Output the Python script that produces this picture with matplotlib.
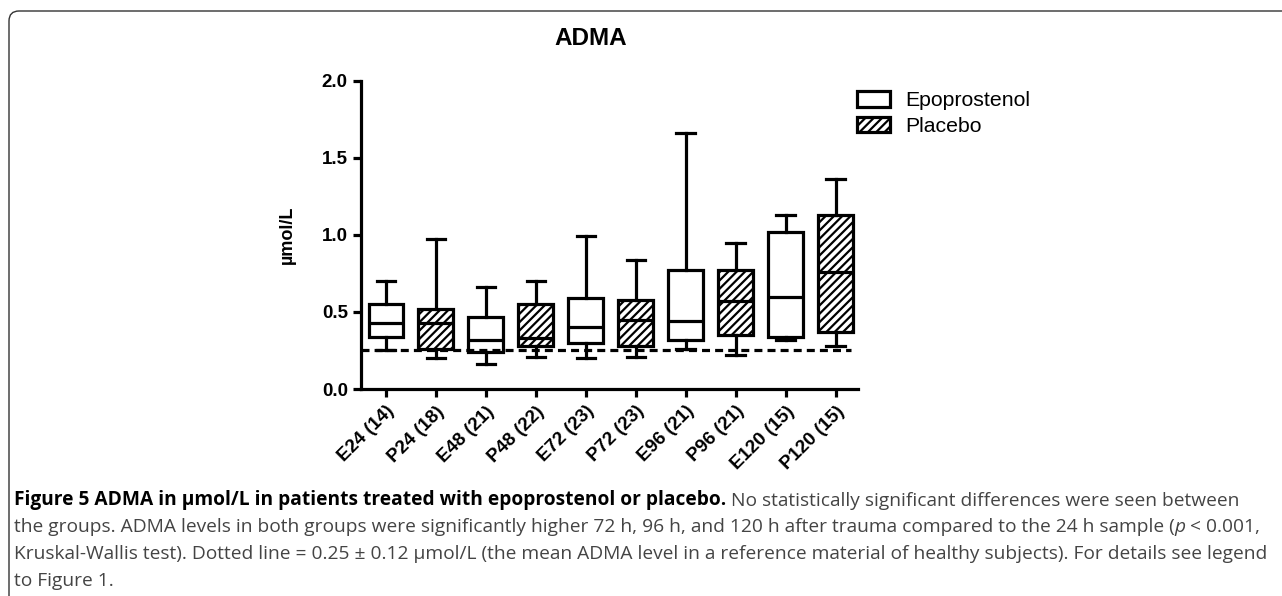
import matplotlib
matplotlib.use("Agg")
import matplotlib.pyplot as plt
from matplotlib.patches import Patch, FancyBboxPatch
from matplotlib.transforms import ScaledTranslation

# ADMA levels (umol/L) per sample group
groups = ['E24 (14)', 'P24 (18)', 'E48 (21)', 'P48 (22)', 'E72 (23)',
          'P72 (23)', 'E96 (21)', 'P96 (21)', 'E120 (15)', 'P120 (15)']
whisker_low = [0.25, 0.20, 0.16, 0.21, 0.20, 0.21, 0.26, 0.22, 0.32, 0.28]
q1 = [0.34, 0.26, 0.24, 0.28, 0.30, 0.28, 0.32, 0.35, 0.34, 0.37]
median = [0.43, 0.43, 0.32, 0.33, 0.40, 0.45, 0.44, 0.57, 0.60, 0.76]
q3 = [0.55, 0.52, 0.47, 0.55, 0.59, 0.58, 0.77, 0.77, 1.02, 1.13]
whisker_high = [0.70, 0.97, 0.66, 0.70, 0.99, 0.84, 1.66, 0.95, 1.13, 1.36]
placebo = [False, True, False, True, False, True, False, True, False, True]
ref_level = 0.25  # healthy reference mean
yticks = [0.0, 0.5, 1.0, 1.5, 2.0]

plt.rcParams['font.family'] = ['Liberation Sans', 'DejaVu Sans']
plt.rcParams['hatch.linewidth'] = 1.6

fig = plt.figure(figsize=(12.82, 5.96), dpi=100)
ax = fig.add_axes([0.2816, 0.3473, 0.3877, 0.5173])

lw = 2.3
stats = []
for i in range(len(groups)):
    stats.append(dict(label=groups[i], whislo=whisker_low[i], q1=q1[i],
                      med=median[i], q3=q3[i], whishi=whisker_high[i]))

bp = ax.bxp(stats, positions=list(range(len(groups))), widths=0.7,
            capwidths=0.37, showfliers=False, patch_artist=True,
            boxprops=dict(facecolor='white', edgecolor='black', linewidth=lw),
            medianprops=dict(color='black', linewidth=lw),
            whiskerprops=dict(color='black', linewidth=lw),
            capprops=dict(color='black', linewidth=lw))
for box, is_p in zip(bp['boxes'], placebo):
    if is_p:
        box.set_hatch('////')

ax.axhline(ref_level, xmin=0.0, xmax=0.985, color='black', lw=lw,
           ls=(0, (2.5, 1.6)), zorder=5)

ax.set_xlim(-0.5, 9.45)
ax.set_ylim(0, 2.0)
ax.set_yticks(yticks)
ax.set_yticklabels(['{:.1f}'.format(t) for t in yticks],
                   fontsize=13.5, fontweight='bold')
ax.set_xticks(list(range(len(groups))))
ax.set_xticklabels(groups, rotation=45, ha='right', rotation_mode='anchor',
                   fontsize=13.5, fontweight='bold')
shift = ScaledTranslation(-4 / 100, 0, fig.dpi_scale_trans)
for lab in ax.get_xticklabels():
    lab.set_transform(lab.get_transform() + shift)
ax.tick_params(width=lw, length=6, direction='out', color='black')
ax.tick_params(axis='x', pad=4)
for s in ['top', 'right']:
    ax.spines[s].set_visible(False)
for s in ['left', 'bottom']:
    ax.spines[s].set_linewidth(lw)
ax.set_ylabel('µmol/L', fontsize=13, fontweight='bold')
ax.yaxis.set_label_coords(-0.132, 0.5)

fig.text(591 / 1282, 1 - 45 / 596, 'ADMA', ha='center', va='baseline',
         fontsize=17.5, fontweight='bold')

handles = [Patch(facecolor='white', edgecolor='black', lw=lw, label='Epoprostenol'),
           Patch(facecolor='white', edgecolor='black', lw=lw, hatch='////', label='Placebo')]
fig.legend(handles=handles, loc='upper left', bbox_to_anchor=(857 / 1282, 1 - 91 / 596),
           frameon=False, fontsize=15.3, handlelength=1.55, handleheight=0.75,
           handletextpad=0.7, labelspacing=0.3, borderpad=0, borderaxespad=0)

# rounded frame (only top/left visible)
frame = FancyBboxPatch((0.09, -1.0), 14.0, 6.85,
                       boxstyle='round,pad=0,rounding_size=0.1',
                       transform=fig.dpi_scale_trans, fill=False,
                       ec='#333333', lw=1.0)
fig.add_artist(frame)

# caption
cap_font = ['Open Sans', 'DejaVu Sans']
cap_size = 13.8
gray = '#444444'


def chain(prev, txt, gap=0.0, **kw):
    return ax.annotate(txt, xy=(1, 0), xycoords=prev, xytext=(gap, 0),
                       textcoords='offset points', va='bottom', ha='left',
                       fontsize=cap_size, family=cap_font, annotation_clip=False, **kw)


x0 = 14 / 1282
base = [505, 532, 559, 586]
t = fig.text(x0, 1 - base[0] / 596,
             'Figure 5 ADMA in µmol/L in patients treated with epoprostenol or placebo.',
             fontsize=cap_size, family=cap_font, fontweight='bold', color='black',
             va='baseline')
chain(t, 'No statistically significant differences were seen between', gap=3.5, color=gray)
t = fig.text(x0, 1 - base[1] / 596,
             'the groups. ADMA levels in both groups were significantly higher 72 h, 96 h, '
             'and 120 h after trauma compared to the 24 h sample (',
             fontsize=cap_size, family=cap_font, color=gray, va='baseline')
t = chain(t, 'p', color=gray, style='italic')
chain(t, '< 0.001,', gap=3, color=gray)
fig.text(x0, 1 - base[2] / 596,
         'Kruskal-Wallis test). Dotted line = 0.25 ± 0.12 µmol/L (the mean ADMA level in a '
         'reference material of healthy subjects). For details see legend',
         fontsize=cap_size, family=cap_font, color=gray, va='baseline')
fig.text(x0, 1 - base[3] / 596, 'to Figure 1.',
         fontsize=cap_size, family=cap_font, color=gray, va='baseline')

plt.savefig('out.png', dpi=100)
